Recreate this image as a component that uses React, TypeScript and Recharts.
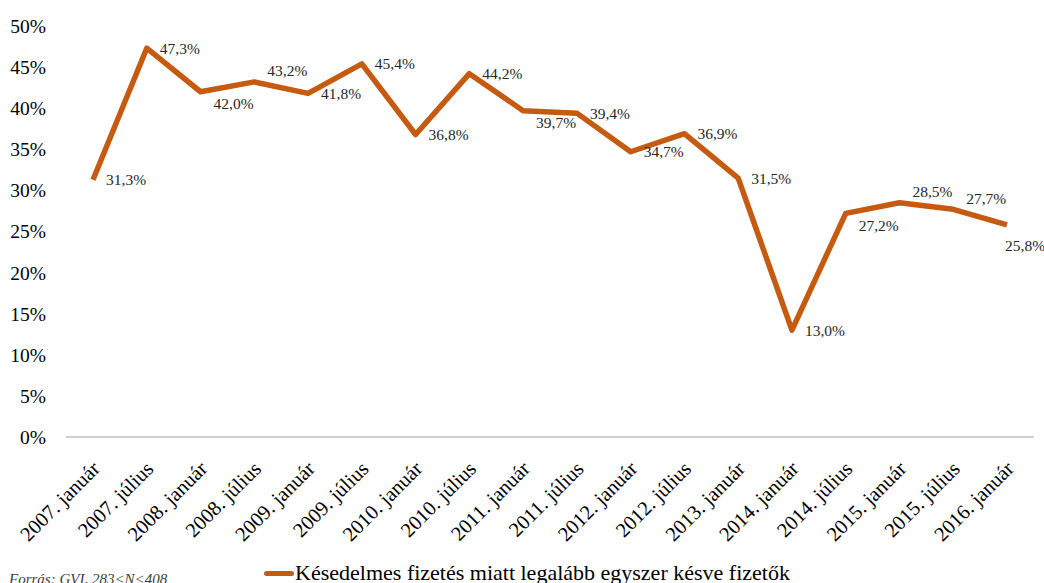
import { LineChart, Line, XAxis, YAxis, Legend, LabelList } from "recharts";

const periods = [
  "2007. január",
  "2007. július",
  "2008. január",
  "2008. július",
  "2009. január",
  "2009. július",
  "2010. január",
  "2010. július",
  "2011. január",
  "2011. július",
  "2012. január",
  "2012. július",
  "2013. január",
  "2014. január",
  "2014. július",
  "2015. január",
  "2015. július",
  "2016. január",
];

const latePayers = [
  31.3, 47.3, 42.0, 43.2, 41.8, 45.4, 36.8, 44.2, 39.7, 39.4, 34.7, 36.9, 31.5, 13.0, 27.2, 28.5, 27.7,
  25.8,
];

const yTicks = [0, 5, 10, 15, 20, 25, 30, 35, 40, 45, 50];

const seriesName = "Késedelmes fizetés miatt legalább egyszer késve fizetők";
const source = "Forrás: GVI, 283<N<408";

const data = periods.map((p, i) => ({ period: p, value: latePayers[i] }));

const FONT = "'Liberation Serif', 'DejaVu Serif', serif";
const ORANGE = "#C55A11";

const fmt = (v: number) => v.toFixed(1).replace(".", ",") + "%";

// label goes right of the point; on flat stretches it is pushed above or below the line
function PointLabel(props: any) {
  const { x, y, value, index } = props;
  const next = latePayers[index + 1];
  const prev = latePayers[index - 1];
  let dx = 13;
  let dy = 2;
  if (next === undefined) {
    dx = -2;
    dy = 23;
  } else if (Math.abs(next - value) < 2) {
    const below = next > value || (prev !== undefined && prev - value > 3);
    dy = below ? 14 : -9;
  }
  return (
    <text
      x={x + dx}
      y={y + dy}
      fontSize={15.5}
      fontFamily={FONT}
      fill="#262626"
      dominantBaseline="middle"
    >
      {fmt(value)}
    </text>
  );
}

function PeriodTick(props: any) {
  const { x, y, payload } = props;
  const ax = x + 8;
  const ay = y + 25;
  return (
    <text
      x={ax}
      y={ay}
      transform={`rotate(-45 ${ax} ${ay})`}
      textAnchor="end"
      fontSize={20.5}
      fontFamily={FONT}
      fill="#000"
    >
      {payload.value}
    </text>
  );
}

function LegendBox() {
  return (
    <div
      style={{
        display: "flex",
        alignItems: "center",
        justifyContent: "center",
        paddingTop: 15,
        paddingLeft: 20,
        fontFamily: FONT,
        fontSize: 22,
        color: "#000",
        lineHeight: "22px",
      }}
    >
      <span
        style={{
          display: "inline-block",
          width: 30,
          height: 5,
          borderRadius: 3,
          background: ORANGE,
          marginRight: 1,
        }}
      />
      {seriesName}
    </div>
  );
}

export default function App() {
  return (
    <div style={{ position: "absolute", left: 0, top: 0, width: 1044, height: 583, overflow: "hidden", background: "#fff" }}>
      <LineChart
        width={1044}
        height={583}
        data={data}
        margin={{ top: 26, right: 10, bottom: 0, left: 0 }}
      >
        <XAxis
          dataKey="period"
          interval={0}
          height={110}
          padding={{ left: 27, right: 27 }}
          tick={<PeriodTick />}
          tickLine={false}
          axisLine={{ stroke: "#bfbfbf", strokeWidth: 1.5 }}
        />
        <YAxis
          domain={[0, 50]}
          ticks={yTicks}
          width={66}
          tickFormatter={(v: number) => `${v}%`}
          tick={{ fontSize: 19.5, fill: "#000", fontFamily: FONT }}
          tickSize={0}
          tickMargin={20}
          axisLine={false}
          tickLine={false}
        />
        <Legend verticalAlign="bottom" height={36} content={<LegendBox />} />
        <Line
          type="linear"
          dataKey="value"
          name={seriesName}
          stroke={ORANGE}
          strokeWidth={5.5}
          strokeLinejoin="round"
          dot={false}
          isAnimationActive={false}
        >
          <LabelList dataKey="value" content={<PointLabel />} />
        </Line>
      </LineChart>
      <div
        style={{
          position: "absolute",
          left: 9,
          top: 571,
          fontFamily: FONT,
          fontStyle: "italic",
          fontSize: 15,
          color: "#404040",
        }}
      >
        {source}
      </div>
    </div>
  );
}
